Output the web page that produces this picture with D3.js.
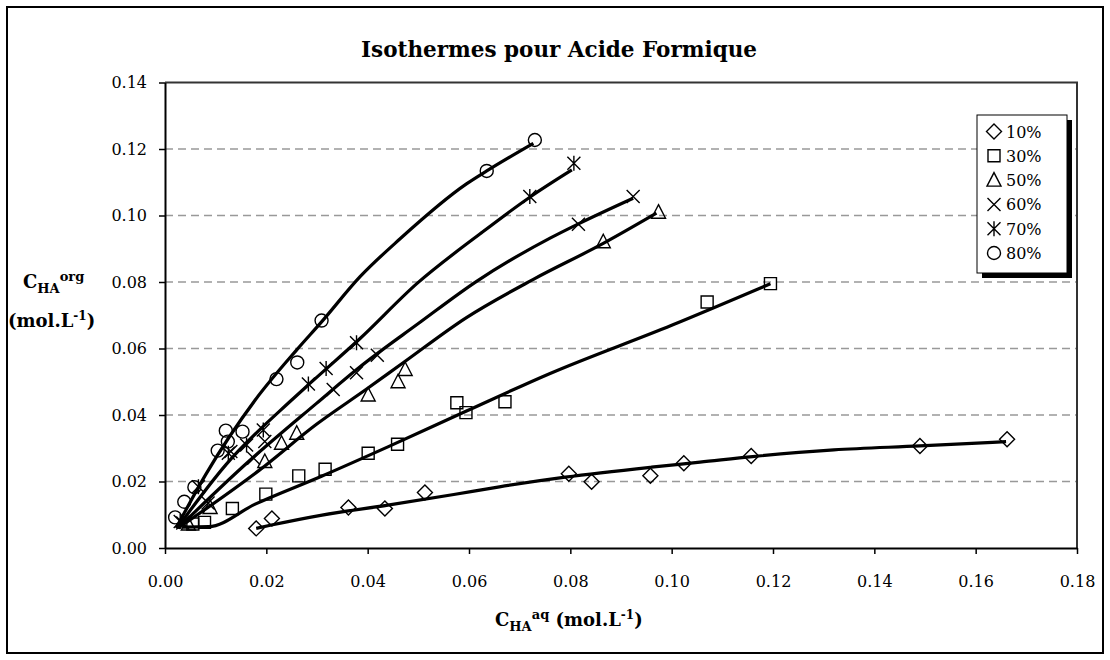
<!DOCTYPE html>
<html><head><meta charset="utf-8">
<script src="https://cdn.jsdelivr.net/npm/d3@7"></script>
<style>
body{margin:0;background:#fff;}
svg{display:block;}
text{font-family:"DejaVu Serif","Liberation Serif",serif;fill:#000;}
</style></head>
<body><svg id="c" width="1110" height="660"></svg>
<script>
// ---- data ----
const xTicks = [0,0.02,0.04,0.06,0.08,0.10,0.12,0.14,0.16,0.18];
const yTicks = [0,0.02,0.04,0.06,0.08,0.10,0.12,0.14];
const seriesNames = ["10%","30%","50%","60%","70%","80%"];
const markerTypes = ["diamond","square","triangle","times","asterisk","circle"];

const pts10 = [[0.018,0.0059],[0.0211,0.0089],[0.0362,0.0122],[0.0434,0.0119],[0.0513,0.0167],[0.0797,0.0223],[0.0842,0.0199],[0.0958,0.0217],[0.1024,0.0255],[0.1157,0.0277],[0.149,0.0307],[0.1662,0.0327]];
const pts30 = [[0.0055,0.0072],[0.0078,0.0077],[0.0133,0.0119],[0.0199,0.0162],[0.0264,0.0217],[0.0316,0.0237],[0.0401,0.0285],[0.0459,0.0312],[0.0576,0.0437],[0.0594,0.0407],[0.0671,0.044],[0.107,0.074],[0.1195,0.0795]];
const pts50 = [[0.0046,0.0072],[0.0089,0.0122],[0.0197,0.026],[0.023,0.0315],[0.026,0.0345],[0.0401,0.046],[0.046,0.05],[0.0474,0.0537],[0.0865,0.0921],[0.0974,0.101]];
const pts60 = [[0.0035,0.0075],[0.0085,0.0135],[0.013,0.029],[0.0175,0.027],[0.0197,0.032],[0.0332,0.0477],[0.0378,0.0527],[0.0419,0.058],[0.0816,0.0974],[0.0924,0.1057]];
const pts70 = [[0.003,0.008],[0.0066,0.0184],[0.0125,0.0285],[0.0161,0.031],[0.0194,0.0355],[0.0283,0.0493],[0.0318,0.054],[0.0378,0.0617],[0.072,0.1057],[0.0807,0.1157]];
const pts80 = [[0.002,0.0092],[0.0038,0.0139],[0.0058,0.0183],[0.0104,0.0293],[0.0124,0.032],[0.012,0.0353],[0.0153,0.035],[0.022,0.0508],[0.0261,0.0558],[0.0309,0.0684],[0.0635,0.1134],[0.073,0.1227]];

const fit10 = [[0.018,0.0059],[0.021,0.0069],[0.031,0.0099],[0.044,0.0129],[0.057,0.0161],[0.066,0.0184],[0.079,0.0213],[0.096,0.0243],[0.1056,0.0258],[0.116,0.0275],[0.132,0.0295],[0.149,0.0307],[0.166,0.032]];
const fit30 = [[0.0035,0.0063],[0.0086,0.0064],[0.0178,0.0132],[0.0309,0.0216],[0.0441,0.0305],[0.0595,0.0412],[0.076,0.0525],[0.1,0.067],[0.1195,0.0795]];
const fit50 = [[0.0026,0.006],[0.0187,0.0235],[0.0299,0.0372],[0.0398,0.0478],[0.047,0.0557],[0.0595,0.0693],[0.0727,0.0808],[0.0865,0.0916],[0.097,0.1007]];
const fit60 = [[0.0026,0.006],[0.0165,0.026],[0.0299,0.0435],[0.0385,0.0545],[0.05,0.0675],[0.0615,0.0802],[0.076,0.0932],[0.0816,0.0975],[0.0924,0.1052]];
const fit70 = [[0.0024,0.006],[0.012,0.025],[0.025,0.0445],[0.0286,0.0495],[0.0385,0.063],[0.0497,0.0795],[0.0622,0.0945],[0.072,0.1055],[0.0803,0.1137]];
const fit80 = [[0.0022,0.006],[0.008,0.022],[0.0178,0.0445],[0.026,0.0596],[0.0309,0.068],[0.0385,0.0816],[0.0464,0.093],[0.0595,0.1095],[0.0635,0.1134],[0.0727,0.1217]];

const pointSets = [pts10,pts30,pts50,pts60,pts70,pts80];
const fitSets = [fit10,fit30,fit50,fit60,fit70,fit80];

// ---- drawing ----
const svg = d3.select("#c");
const W=1110,H=660;
const L=165,R=1077,T=82.5,B=548;
const x = d3.scaleLinear().domain([0,0.18]).range([L,R]);
const y = d3.scaleLinear().domain([0,0.14]).range([B,T]);

svg.append("rect").attr("x",0).attr("y",0).attr("width",W).attr("height",H).attr("fill","#fff");
svg.append("rect").attr("x",7).attr("y",7).attr("width",1096).attr("height",646)
  .attr("fill","none").attr("stroke","#000").attr("stroke-width",2);

// grid
svg.append("g").selectAll("line").data(yTicks.filter(d=>d>0 && d<0.14)).join("line")
  .attr("x1",L).attr("x2",R).attr("y1",d=>y(d)).attr("y2",d=>y(d))
  .attr("stroke","#999").attr("stroke-width",1.3).attr("stroke-dasharray","8,5");

// plot border (top/right)
svg.append("path").attr("d",`M${L},${T}H${R}V${B}`).attr("fill","none").attr("stroke","#333").attr("stroke-width",2);

// axes
const gx = svg.append("g").attr("transform",`translate(0,${B})`)
  .call(d3.axisBottom(x).tickValues(xTicks).tickFormat(d3.format(".2f")).tickSize(6).tickSizeOuter(0));
const gy = svg.append("g").attr("transform",`translate(${L},0)`)
  .call(d3.axisLeft(y).tickValues(yTicks).tickFormat(d3.format(".2f")).tickSize(6).tickSizeOuter(0));
[gx,gy].forEach(g=>{
  g.select(".domain").attr("stroke","#000").attr("stroke-width",2);
  g.selectAll(".tick line").attr("stroke","#000").attr("stroke-width",1.5);
  g.selectAll(".tick text").attr("font-family","DejaVu Serif").attr("font-size",16).attr("fill","#000");
});
gx.selectAll(".tick text").attr("y",28).attr("dy","0.71em");
gy.selectAll(".tick text").attr("x",-18);

// fitted lines
const line = d3.line().x(d=>x(d[0])).y(d=>y(d[1])).curve(d3.curveMonotoneX);
svg.append("g").selectAll("path").data(fitSets).join("path")
  .attr("d",line).attr("fill","none").attr("stroke","#000").attr("stroke-width",3.2).attr("stroke-linejoin","round");

// markers
function markerPath(type){
  switch(type){
    case "diamond": return "M0,-7.5L7.5,0L0,7.5L-7.5,0Z";
    case "square": return "M-6,-6H6V6H-6Z";
    case "triangle": return "M0,-7.5L7,6L-7,6Z";
    case "times": return "M-6.5,-6.5L6.5,6.5M6.5,-6.5L-6.5,6.5";
    case "asterisk": return "M-6.5,-6.5L6.5,6.5M6.5,-6.5L-6.5,6.5M0,-7.5V7.5";
    case "circle": return "M6.5,0A6.5,6.5 0 1,1 -6.5,0A6.5,6.5 0 1,1 6.5,0Z";
  }
}
pointSets.forEach((pts,i)=>{
  svg.append("g").selectAll("path").data(pts).join("path")
    .attr("transform",d=>`translate(${x(d[0])},${y(d[1])})`)
    .attr("d",markerPath(markerTypes[i])).attr("fill","none").attr("stroke","#000").attr("stroke-width",1.4);
});

// legend
const lg = svg.append("g");
lg.append("rect").attr("x",982).attr("y",120).attr("width",90).attr("height",158).attr("fill","#000");
lg.append("rect").attr("x",977).attr("y",115).attr("width",90).attr("height",158).attr("fill","#fff").attr("stroke","#000").attr("stroke-width",1);
seriesNames.forEach((n,i)=>{
  const cy = 131.5 + i*24.3;
  lg.append("path").attr("transform",`translate(994,${cy})`).attr("d",markerPath(markerTypes[i]))
    .attr("fill","none").attr("stroke","#000").attr("stroke-width",1.4);
  lg.append("text").attr("x",1006).attr("y",cy+6).attr("font-size",16).text(n);
});

// title
svg.append("text").attr("x",559).attr("y",57).attr("text-anchor","middle")
  .attr("font-size",21.5).attr("font-weight","bold").text("Isothermes pour Acide Formique");

// x title
const xt = svg.append("text").attr("x",495).attr("y",626).attr("font-size",18).attr("font-weight","bold");
xt.append("tspan").text("C");
xt.append("tspan").attr("font-size",13).attr("dy",5).text("HA");
xt.append("tspan").attr("font-size",13).attr("dy",-12).text("aq");
xt.append("tspan").attr("dy",7).text(" (mol.L");
xt.append("tspan").attr("font-size",12).attr("dy",-7).text("-1");
xt.append("tspan").attr("dy",7).text(")");

// y title
const yt1 = svg.append("text").attr("x",23).attr("y",288).attr("font-size",18).attr("font-weight","bold");
yt1.append("tspan").text("C");
yt1.append("tspan").attr("font-size",13).attr("dy",5).text("HA");
yt1.append("tspan").attr("font-size",13).attr("dy",-12).text("org");
const yt2 = svg.append("text").attr("x",8).attr("y",327).attr("font-size",18).attr("font-weight","bold");
yt2.append("tspan").text("(mol.L");
yt2.append("tspan").attr("font-size",12).attr("dy",-7).text("-1");
yt2.append("tspan").attr("dy",7).text(")");
</script>
</body></html>
